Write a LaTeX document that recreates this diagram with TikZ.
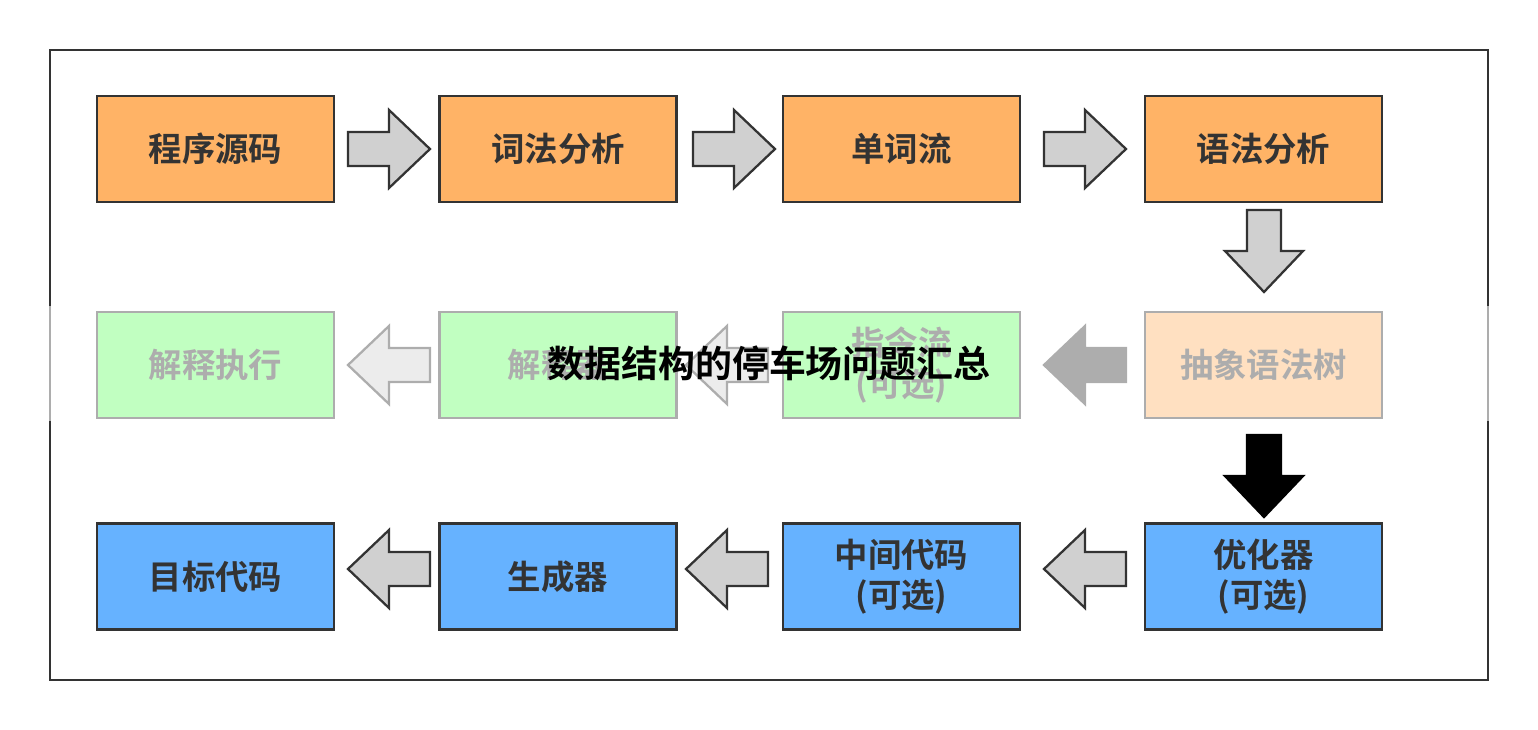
\documentclass[tikz,border=0pt]{standalone}
\usepackage{fontspec}
\newfontfamily\cjk{Noto Sans CJK SC Bold}
\usetikzlibrary{positioning}
\definecolor{orangebox}{HTML}{FFB366}
\definecolor{bluebox}{HTML}{66B2FF}
\definecolor{greenbox}{HTML}{66FF66}
\definecolor{arrowfill}{HTML}{D0D0D0}
\definecolor{edge}{HTML}{333333}
\tikzset{
  stage/.style={draw=edge, line width=1.5pt, minimum width=4.74cm, minimum height=2.12cm,
    align=center, font=\cjk\fontsize{19}{23}\selectfont, text=edge},
  arrowbox/.style={draw=edge, fill=arrowfill, line width=1.3pt},
  blockarrow/.pic={
    \draw[pic actions, line join=miter]
      (-41,-17) -- (0,-17) -- (0,-39) -- (41,0) -- (0,39) -- (0,17) -- (-41,17) -- cycle;
  }
}
\begin{document}
\begin{tikzpicture}[x=0.02cm, y=-0.02cm]
\useasboundingbox (0,0) rectangle (1538,730);
\draw[edge, line width=1.6pt] (50,50) rectangle (1488,680);
% first row
\node[stage, fill=orangebox] (src) at (215.5,149) {程序源码};
\node[stage, fill=orangebox] (lex) at (558,149) {词法分析};
\node[stage, fill=orangebox] (tok) at (901.5,149) {单词流};
\node[stage, fill=orangebox] (syn) at (1263.5,149) {语法分析};
% second row
\node[stage, fill=orangebox] (ast) at (1263.5,365) {抽象语法树};
\node[stage, fill=greenbox] (ins) at (901.5,365) {指令流\\(可选)};
\node[stage, fill=greenbox] (itp) at (558,365) {解释器};
\node[stage, fill=greenbox] (run) at (215.5,365) {解释执行};
% third row
\node[stage, fill=bluebox] (opt) at (1263.5,576.5) {优化器\\(可选)};
\node[stage, fill=bluebox] (mid) at (901.5,576.5) {中间代码\\(可选)};
\node[stage, fill=bluebox] (gen) at (558,576.5) {生成器};
\node[stage, fill=bluebox] (obj) at (215.5,576.5) {目标代码};
% arrows
\pic[arrowbox] at (389,149) {blockarrow};
\pic[arrowbox] at (734,149) {blockarrow};
\pic[arrowbox] at (1085,149) {blockarrow};
\pic[arrowbox, rotate=-90] at (1264,251) {blockarrow};
\pic[arrowbox, fill=edge] at (1085,365) [rotate=180] {blockarrow};
\pic[arrowbox, rotate=180] at (727,365) {blockarrow};
\pic[arrowbox, rotate=180] at (389,365) {blockarrow};
\pic[arrowbox, draw=black, fill=black, rotate=-90] at (1264,476) {blockarrow};
\pic[arrowbox, rotate=180] at (1085,569) {blockarrow};
\pic[arrowbox, rotate=180] at (727,569) {blockarrow};
\pic[arrowbox, rotate=180] at (389,569) {blockarrow};
% band
\fill[white, opacity=0.6] (0,306) rectangle (1538,421);
\node[font=\cjk\fontsize{21}{25}\selectfont, text=black] (title) at (769,363) {数据结构的停车场问题汇总};
\end{tikzpicture}
\end{document}
